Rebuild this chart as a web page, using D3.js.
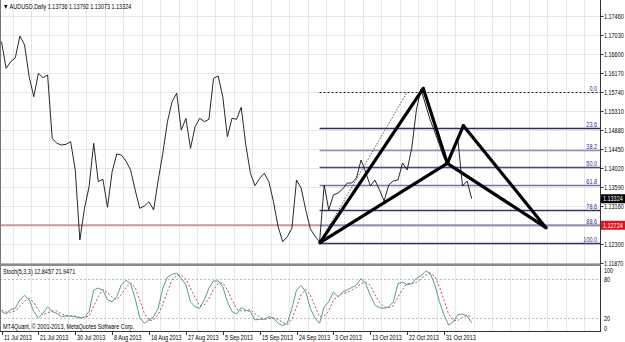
<!DOCTYPE html>
<html>
<head>
<meta charset="utf-8">
<style>
  body { margin: 0; background: #fff; }
  svg { display: block; font-family: "Liberation Sans", Arial, sans-serif; }
</style>
</head>
<body>
<svg width="625" height="342"></svg>
<script src="https://d3js.org/d3.v7.min.js"></script>
<script>
// daily closes, 11 Jul 2013 .. early Nov 2013 (one per bar)
var closes = [
  1.16878, 1.16276, 1.16426, 1.16516, 1.17007, 1.16804, 1.16086, 1.15634, 1.16163, 1.16064,
  1.16125, 1.14692, 1.14579, 1.14541, 1.14556, 1.14615, 1.13975, 1.12391, 1.13108, 1.13597,
  1.14579, 1.13710, 1.13764, 1.13131, 1.13936, 1.14337, 1.14314, 1.14178, 1.13975, 1.13522,
  1.13108, 1.13160, 1.13257, 1.13070, 1.13748, 1.14353, 1.15068, 1.15520, 1.15711, 1.14880,
  1.15145, 1.14466, 1.14955, 1.15145, 1.15068, 1.15122, 1.16050, 1.16102, 1.15634, 1.14728,
  1.15145, 1.15122, 1.15394, 1.14541, 1.13900, 1.13619, 1.13787, 1.13900, 1.13710, 1.13257,
  1.12692, 1.12352, 1.12465, 1.12655, 1.13748, 1.13567, 1.13070, 1.12640, 1.12481, 1.12345,
  1.13635, 1.13070, 1.13409, 1.13454, 1.13545, 1.13681, 1.13681, 1.13794, 1.14201, 1.13930,
  1.13613, 1.13748, 1.13522, 1.13273, 1.13635, 1.13726, 1.13748, 1.14133, 1.13975, 1.14473,
  1.15333, 1.15808, 1.15446, 1.15106, 1.14835, 1.14541, 1.14246, 1.14133, 1.14427, 1.14676,
  1.13613, 1.13726, 1.13324
];
var stochK = [
  30, 26, 33, 35, 48, 55, 48, 30, 20, 27, 37, 30, 27, 22, 23, 23, 22, 20, 21, 30,
  63, 66, 63, 48, 45, 53, 71, 78, 73, 50, 20, 12, 17, 22, 35, 66, 83, 87, 89, 81,
  71, 45, 37, 35, 48, 66, 77, 77, 68, 45, 30, 26, 36, 32, 30, 17, 18, 18, 22, 20,
  12, 8, 12, 35, 63, 70, 60, 35, 20, 12, 37, 45, 60, 53, 60, 63, 67, 71, 81, 73,
  55, 40, 36, 35, 37, 45, 73, 75, 71, 73, 81, 85, 92, 89, 71, 45, 25, 9, 14, 25,
  26, 23, 12.8457
];
var stochD = [
  32, 29, 29, 31, 38, 46, 50, 44, 32, 25, 28, 31, 31, 26, 24, 23, 23, 21, 21, 23,
  38, 53, 64, 59, 52, 48, 56, 67, 74, 67, 47, 27, 16, 17, 25, 41, 61, 79, 86, 86,
  80, 66, 51, 39, 40, 50, 64, 73, 74, 63, 48, 34, 31, 31, 33, 26, 22, 18, 19, 20,
  18, 13, 10, 18, 37, 56, 64, 55, 38, 22, 23, 31, 48, 53, 58, 59, 63, 67, 73, 75,
  70, 56, 44, 37, 36, 39, 52, 64, 73, 73, 75, 80, 86, 89, 84, 68, 47, 26, 16, 16,
  21, 24, 21.9471
];
var priceTicks = [1.17460, 1.17030, 1.16600, 1.16170, 1.15740, 1.15310, 1.14880,
  1.14450, 1.14020, 1.13590, 1.13160, 1.12730, 1.12300, 1.11870];
var dateIndex = [0, 8, 16, 24, 32, 40, 48, 56, 64, 72, 80, 88, 96];
var dateText = ["11 Jul 2013", "21 Jul 2013", "30 Jul 2013", "8 Aug 2013", "18 Aug 2013",
  "27 Aug 2013", "5 Sep 2013", "15 Sep 2013", "24 Sep 2013", "3 Oct 2013",
  "13 Oct 2013", "22 Oct 2013", "31 Oct 2013"];
var fibLevels = [0, 23.6, 38.2, 50, 61.8, 78.6, 88.6, 100];
var fibAnchorIdx = [69, 88];          // bar of the 100 point, bar of the 0 point
var fibAnchorPrice = [1.12330, 1.15740];
var patternNames = ["X", "A", "B", "C", "D"];
var patternIdx = [69.1, 91.5, 96.7, 100.2, 118.1];
var patternPrice = [1.12330, 1.15820, 1.14126, 1.14977, 1.12670];
var patternLegs = [["X", "A"], ["A", "B"], ["B", "C"], ["C", "D"], ["X", "B"], ["B", "D"]];
var hLinePrice = 1.12724;
var lastPrice = 1.13324;
var stochLevels = [80, 20];
var stochTicks = [100, 80, 20, 0];

var fibColor = { 0: "#2a2a60", 23.6: "#2e2e66", 38.2: "#8a8abd", 50: "#4a4a82",
  61.8: "#7373b3", 78.6: "#34346a", 88.6: "#8a8abd", 100: "#34346a" };

var svg = d3.select("svg"),
    W = 625, axisX = 600.5,
    mainTop = 0, mainBot = 263, stTop = 266, stBot = 331;

var x = d3.scaleLinear().domain([0, 102]).range([1.5, 471.7]);
var y = d3.scaleLinear().domain([1.12300, 1.14880]).range([244, 130]);
var ys = d3.scaleLinear().domain([0, 100]).range([stBot, stTop]);

function label(g, px, py, str, anchor, color) {
  return g.append("text")
    .attr("transform", "translate(" + px + "," + py + ") scale(0.76,1)")
    .attr("text-anchor", anchor || "start")
    .attr("font-size", 7.2)
    .attr("fill", color || "#000")
    .text(str);
}

svg.append("rect").attr("width", W).attr("height", 342).attr("fill", "#fff");

var grid = svg.append("g").attr("stroke", "#e6e6e6").attr("stroke-width", 1);
// vertical grid every 4 bars, both panels
d3.range(2.4, 127, 4).forEach(function (i) {
  var gx = Math.round(x(i)) + 0.5;
  if (gx > axisX) return;
  grid.append("line").attr("x1", gx).attr("x2", gx).attr("y1", mainTop).attr("y2", mainBot);
  grid.append("line").attr("x1", gx).attr("x2", gx).attr("y1", stTop).attr("y2", stBot);
});
priceTicks.forEach(function (p) {
  var gy = Math.round(y(p)) + 0.5;
  grid.append("line").attr("x1", 0).attr("x2", axisX).attr("y1", gy).attr("y2", gy);
});

// horizontal price line across the chart
svg.append("line")
  .attr("x1", 0).attr("x2", axisX)
  .attr("y1", y(hLinePrice)).attr("y2", y(hLinePrice))
  .attr("stroke", "#c79a9a").attr("stroke-width", 2);

// fibonacci retracement
var fibP0 = fibAnchorPrice[1], fibP100 = fibAnchorPrice[0];
var fib = svg.append("g");
fibLevels.forEach(function (lv) {
  var fp = fibP0 + (fibP100 - fibP0) * lv / 100;
  var fy = Math.round(y(fp)) + 0.5;
  fib.append("line")
    .attr("x1", x(fibAnchorIdx[0])).attr("x2", axisX)
    .attr("y1", fy).attr("y2", fy)
    .attr("stroke", lv === 0 ? "#222" : fibColor[lv])
    .attr("stroke-width", lv === 0 ? 1 : 1.3)
    .attr("stroke-dasharray", lv === 0 ? "2,2" : null);
  label(fib, 597, fy - 1.5, lv.toFixed(1), "end", "#2b2b80");
});
fib.append("line")
  .attr("x1", x(fibAnchorIdx[0])).attr("y1", y(fibAnchorPrice[0]))
  .attr("x2", x(fibAnchorIdx[1])).attr("y2", y(fibAnchorPrice[1]))
  .attr("stroke", "#333").attr("stroke-width", 0.8).attr("stroke-dasharray", "1.5,1.5");

// price line
var line = d3.line()
  .x(function (d, i) { return x(i); })
  .y(function (d) { return y(d); });
svg.append("path")
  .datum(closes)
  .attr("fill", "none")
  .attr("stroke", "#111")
  .attr("stroke-width", 0.9)
  .attr("stroke-linejoin", "round")
  .attr("d", line);

// harmonic pattern
var pts = {};
patternNames.forEach(function (n, k) { pts[n] = [x(patternIdx[k]), y(patternPrice[k])]; });
svg.append("g").selectAll("line")
  .data(patternLegs)
  .enter().append("line")
  .attr("x1", function (d) { return pts[d[0]][0]; })
  .attr("y1", function (d) { return pts[d[0]][1]; })
  .attr("x2", function (d) { return pts[d[1]][0]; })
  .attr("y2", function (d) { return pts[d[1]][1]; })
  .attr("stroke", "#000")
  .attr("stroke-width", 3.2)
  .attr("stroke-linecap", "round");

// stochastic panel
svg.append("g").selectAll("line")
  .data(stochLevels)
  .enter().append("line")
  .attr("x1", 0).attr("x2", axisX)
  .attr("y1", function (d) { return Math.round(ys(d)) + 0.5; })
  .attr("y2", function (d) { return Math.round(ys(d)) + 0.5; })
  .attr("stroke", "#bdbdbd").attr("stroke-dasharray", "2,2");

var sline = d3.line()
  .x(function (d, i) { return x(i); })
  .y(function (d) { return ys(d); });
svg.append("path").datum(stochD)
  .attr("fill", "none").attr("stroke", "#b83a3a").attr("stroke-width", 0.9)
  .attr("stroke-dasharray", "2,2").attr("d", sline);
svg.append("path").datum(stochK)
  .attr("fill", "none").attr("stroke", "#4e9e9a").attr("stroke-width", 1)
  .attr("d", sline);

// frame
var frame = svg.append("g").attr("fill", "none");
frame.append("line").attr("x1", 0.5).attr("x2", 0.5).attr("y1", 0).attr("y2", stBot)
  .attr("stroke", "#777");
frame.append("line").attr("x1", axisX).attr("x2", axisX).attr("y1", 0).attr("y2", stBot + 1)
  .attr("stroke", "#333");
frame.append("rect").attr("x", 0).attr("y", mainBot + 0.5).attr("width", axisX).attr("height", 2.5)
  .attr("fill", "#8c8c8c");
frame.append("line").attr("x1", 0).attr("x2", axisX).attr("y1", stBot + 0.5).attr("y2", stBot + 0.5)
  .attr("stroke", "#333");

// right price axis
var ax = svg.append("g");
priceTicks.forEach(function (p) {
  var ty = Math.round(y(p)) + 0.5;
  ax.append("line").attr("x1", axisX).attr("x2", axisX + 3).attr("y1", ty).attr("y2", ty)
    .attr("stroke", "#333");
  label(ax, 604, ty + 2.5, p.toFixed(5));
});
stochTicks.forEach(function (v) {
  var ty = Math.max(stTop + 4, Math.min(stBot - 3, ys(v)));
  label(ax, 604, ty + 2.5, String(v));
});

// price boxes
[[lastPrice, "#000"], [hLinePrice, "#e0141e"]].forEach(function (b) {
  var by = y(b[0]);
  ax.append("rect").attr("x", axisX + 0.5).attr("y", by - 4.5).attr("width", 24).attr("height", 9)
    .attr("fill", b[1]);
  label(ax, 603, by + 2.5, b[0].toFixed(5), "start", "#fff");
});

// date axis
var dx = svg.append("g");
dateIndex.forEach(function (i, k) {
  var tx = Math.round(x(i)) + 0.5;
  dx.append("line").attr("x1", tx).attr("x2", tx).attr("y1", stBot).attr("y2", stBot + 4)
    .attr("stroke", "#333");
  label(dx, tx + 1.5, 339.5, dateText[k]);
});

// captions
label(svg, 3, 8.5, "\u25BC AUDUSD,Daily  1.13736 1.13792 1.13073 1.13324");
label(svg, 3, 273.5, "Stoch(5,3,3) 12.8457 21.9471");
label(svg, 3, 329, "MT4Quant, \u00A9 2001-2013, MetaQuotes Software Corp.");
</script>
</body>
</html>
